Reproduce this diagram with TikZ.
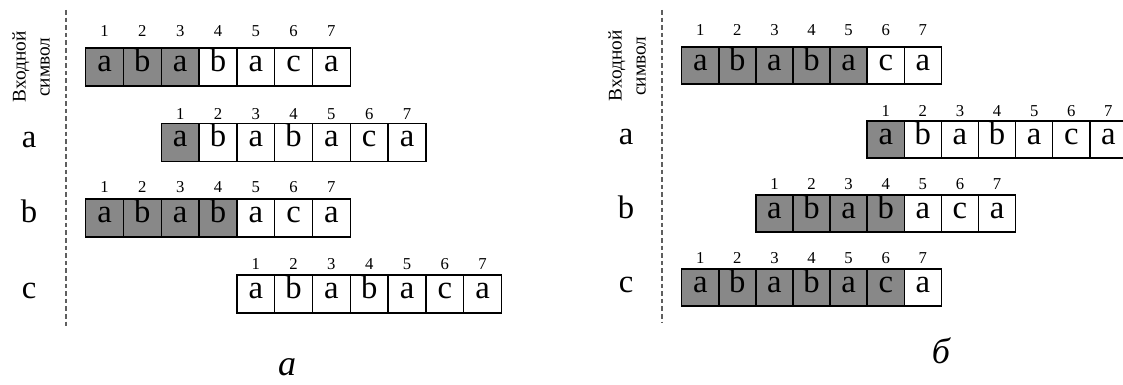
\documentclass[tikz,border=0pt]{standalone}
\usepackage{fontspec}
\setmainfont{Liberation Serif}
\definecolor{cellgray}{RGB}{136,136,136}
\definecolor{dashgray}{RGB}{95,95,95}
\begin{document}
\begin{tikzpicture}[x=0.75pt,y=-0.75pt,
  lcell/.style={draw, line width=1.1pt, inner sep=0pt, minimum size=28.35pt,
    text height=0.68em, text depth=0pt, font=\fontsize{24.5}{24.5}\selectfont},
  rcell/.style={lcell, minimum size=27.8pt},
  idx/.style={inner sep=0pt, text height=0.66em, text depth=0pt, font=\fontsize{12.5}{12.5}\selectfont},
  sym/.style={inner sep=0pt, text height=0.68em, text depth=0pt, font=\fontsize{24.5}{24.5}\selectfont},
  rot/.style={rotate=90, align=center, inner sep=0pt, font=\fontsize{14.5}{18}\selectfont},
  sepline/.style={draw=dashgray, line width=0.8pt, dash pattern=on 3.5pt off 2.2pt},
  capt/.style={inner sep=0pt, font=\fontsize{27}{27}\selectfont\itshape}]
\clip (0,0) rectangle (1123,385);
\fill[white] (0,0) rectangle (1123,385);

% ---------- left panel (a) ----------
\node[rot] (lhead) at (31,67) {Входной\\символ};
\coordinate (lsepA) at (66,10);
\coordinate (lsepB) at (66,328);
\draw[sepline] (lsepA) -- (lsepB);
\node[sym] (lsa) at (29,142.5) {a};
\node[sym] (lsb) at (29,218) {b};
\node[sym] (lsc) at (29,294) {c};

\foreach \r/\top/\off/\nsh/\ny in {0/48/0/3/32.5, 1/123.5/2/1/115.5, 2/199/0/4/188.5, 3/275/4/0/265.5}{
  \foreach \ch [count=\i] in {a,b,a,b,a,c,a}{
    \ifnum\i>\nsh \def\fc{white}\else\def\fc{cellgray}\fi
    \node[lcell, fill=\fc] (l\r c\i) at ({85.7+(\off+\i-0.5)*37.8},{\top+18.9}) {\ch};
    \node[idx] (l\r n\i) at ({85.7+(\off+\i-0.5)*37.8},\ny) {\i};
  }
}
\node[capt, text height=0.45em, text depth=0pt] (lcap) at (287,372) {а};

% ---------- right panel (b) ----------
\node[rot] (rhead) at (627,66) {Входной\\символ};
\coordinate (rsepA) at (662,10);
\coordinate (rsepB) at (662,322);
\draw[sepline] (rsepA) -- (rsepB);
\node[sym] (rsa) at (626,139.5) {a};
\node[sym] (rsb) at (626,213.5) {b};
\node[sym] (rsc) at (626,287.5) {c};

\foreach \r/\top/\off/\nsh/\ny in {0/47/0/5/31.5, 1/121/5/1/112.5, 2/195/2/4/185, 3/269/0/6/259.5}{
  \foreach \ch [count=\i] in {a,b,a,b,a,c,a}{
    \ifnum\i>\nsh \def\fc{white}\else\def\fc{cellgray}\fi
    \node[rcell, fill=\fc] (r\r c\i) at ({681.7+(\off+\i-0.5)*37.1},{\top+18.55}) {\ch};
    \node[idx] (r\r n\i) at ({681.7+(\off+\i-0.5)*37.1},\ny) {\i};
  }
}
\node[capt, text height=0.72em, text depth=0pt] (rcap) at (941,358.5) {б};
\end{tikzpicture}
\end{document}
